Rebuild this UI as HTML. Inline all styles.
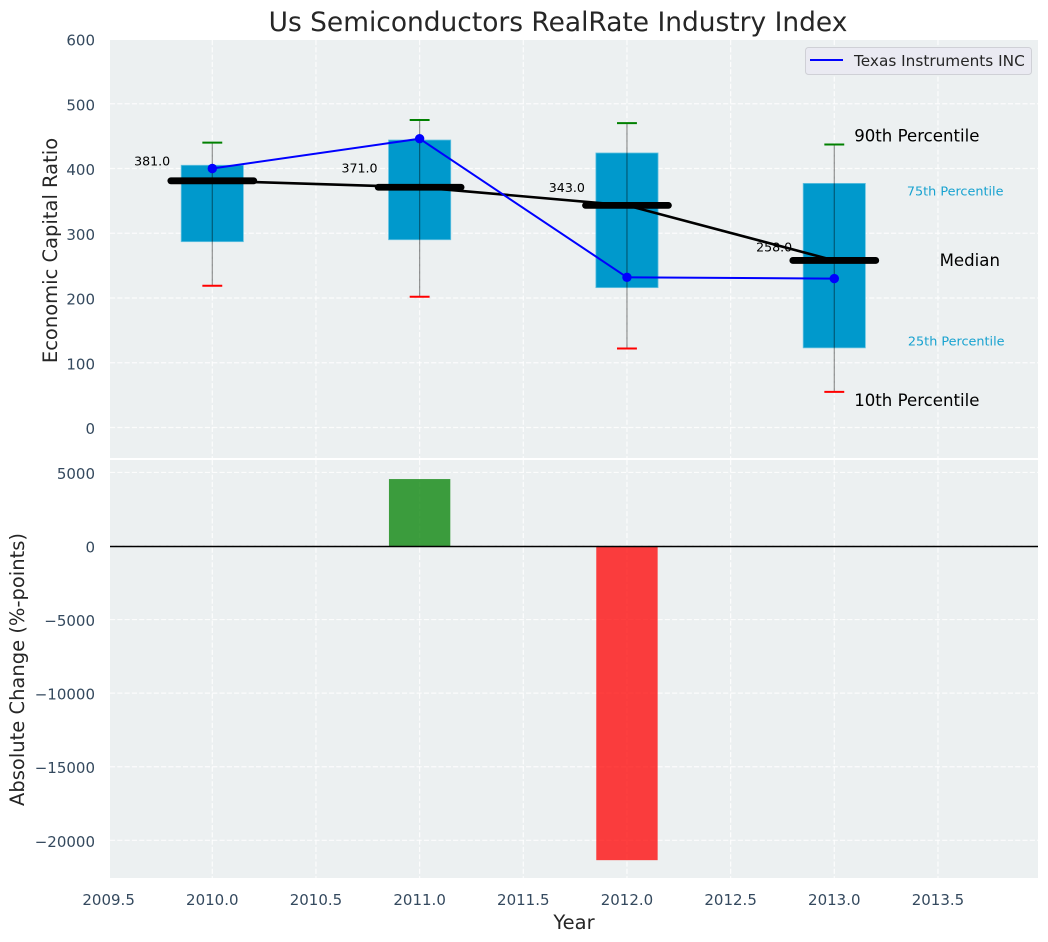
<!DOCTYPE html>
<html lang="en">
<head>
<meta charset="utf-8">
<title>Us Semiconductors RealRate Industry Index</title>
<style>
html,body{margin:0;padding:0;background:#fff;}
svg{display:block;font-family:"DejaVu Sans","Liberation Sans",sans-serif;}
</style>
</head>
<body>
<svg id="chart" xmlns="http://www.w3.org/2000/svg" width="1048" height="942" viewBox="0 0 1048 942">
  <rect x="110" y="40" width="928" height="418" fill="#ecf0f1"/>
  <rect x="110" y="460" width="928" height="418" fill="#ecf0f1"/>
  <g id="grid"></g>
  <g id="marks"></g>
  <g id="ticks"></g>
  <text x="558" y="31" font-size="26.45" text-anchor="middle" fill="#262626">Us Semiconductors RealRate Industry Index</text>
  <text transform="translate(57 250.5) rotate(-90)" font-size="19.5" text-anchor="middle" fill="#262626">Economic Capital Ratio</text>
  <text transform="translate(24 669.5) rotate(-90)" font-size="19.5" text-anchor="middle" fill="#262626">Absolute Change (%-points)</text>
  <text x="574" y="929" font-size="19.5" text-anchor="middle" fill="#262626">Year</text>
  <g>
    <rect x="805.5" y="47.5" width="226" height="27" rx="3" fill="#eaeaf2" stroke="#cfd0d6"/>
    <line x1="810" y1="60" x2="843" y2="60" stroke="#0000ff" stroke-width="2"/>
    <text x="854" y="66" font-size="15.3" fill="#262626">Texas Instruments INC</text>
  </g>
</svg>
<script>
const years = [2010, 2011, 2012, 2013];
const p10 = [219, 202, 122, 55];
const p25 = [287, 290, 216, 123];
const medians = [381, 371, 343, 258];
const p75 = [405, 444, 424, 377];
const p90 = [440, 475, 470, 437];
const company = [400, 446, 232, 230];
const changes = [0, 4550, -21350, 0];
const xTicks = [2009.5, 2010, 2010.5, 2011, 2011.5, 2012, 2012.5, 2013, 2013.5];
const yTicksTop = [0, 100, 200, 300, 400, 500, 600];
const yTicksBottom = [-20000, -15000, -10000, -5000, 0, 5000];

const NS = 'http://www.w3.org/2000/svg';
const grid = document.getElementById('grid');
const marks = document.getElementById('marks');
const ticks = document.getElementById('ticks');
const x = v => 212.3 + (v - 2010) * 207.33;
const yTop = v => 427.5 - v * 0.6475;
const yBot = v => 546 - v * 0.014715;
const left = 110, right = 1038;

function make(tag, parent, attrs, content) {
  const el = document.createElementNS(NS, tag);
  for (const k in attrs) el.setAttribute(k, attrs[k]);
  if (content !== undefined) el.textContent = content;
  parent.appendChild(el);
  return el;
}
const gridStyle = {stroke: '#ffffff', 'stroke-width': 1.2, 'stroke-dasharray': '5.1 2.2', opacity: 0.85};
const dedash = s => Object.assign({}, gridStyle, s);

xTicks.forEach(t => {
  const label = make('text', ticks, {x: x(t), y: 905, 'font-size': 15, 'text-anchor': 'middle', fill: '#34495e'}, t.toFixed(1));
  
  
  if (x(t) < left) return;
  const a = make('line', grid, dedash({x1: x(t), x2: x(t), y1: 40, y2: 458}));
  
  
  const b = make('line', grid, dedash({x1: x(t), x2: x(t), y1: 460, y2: 878}));
  
  
});
yTicksTop.forEach(t => {
  const g = make('line', grid, dedash({x1: left, x2: right, y1: yTop(t), y2: yTop(t)}));
  
  
  const l = make('text', ticks, {x: 95, y: yTop(t) + 6.5, 'font-size': 15, 'text-anchor': 'end', fill: '#34495e'}, String(t));
  
  
});
yTicksBottom.forEach(t => {
  const g = make('line', grid, dedash({x1: left, x2: right, y1: yBot(t), y2: yBot(t)}));
  
  
  const l = make('text', ticks, {x: 95, y: yBot(t) + 6.5, 'font-size': 15, 'text-anchor': 'end', fill: '#34495e'}, String(t).replace('-', '\u2212'));
  
  
});

years.forEach((yr, i) => {
  const box = make('rect', marks, {x: x(yr - 0.15), width: x(yr + 0.15) - x(yr - 0.15), y: yTop(p75[i]), height: yTop(p25[i]) - yTop(p75[i]), fill: '#0099cc', stroke: '#66c2e0', 'stroke-width': 0.8});
  
  
});
years.forEach((yr, i) => {
  const w = make('line', marks, {x1: x(yr), x2: x(yr), y1: yTop(p90[i]), y2: yTop(p10[i]), stroke: '#000', 'stroke-opacity': 0.42, 'stroke-width': 1.2});
  
  
  const hi = make('line', marks, {x1: x(yr - 0.048), x2: x(yr + 0.048), y1: yTop(p90[i]), y2: yTop(p90[i]), stroke: '#008000', 'stroke-width': 2});
  
  
  const lo = make('line', marks, {x1: x(yr - 0.048), x2: x(yr + 0.048), y1: yTop(p10[i]), y2: yTop(p10[i]), stroke: '#ff0000', 'stroke-width': 2});
  
  
  const lab = make('text', marks, {x: x(yr - 0.29), y: yTop(medians[i] * 1.08) + 4.5, 'font-size': 12.6, 'text-anchor': 'middle', fill: '#000'}, medians[i].toFixed(1));
  
  
});

const medianTrend = make('polyline', marks, {points: years.map((yr, i) => x(yr) + ',' + yTop(medians[i])).join(' '), fill: 'none', stroke: '#000', 'stroke-width': 2.6});


years.forEach((yr, i) => {
  const m = make('line', marks, {x1: x(yr - 0.2), x2: x(yr + 0.2), y1: yTop(medians[i]), y2: yTop(medians[i]), stroke: '#000', 'stroke-width': 6.8, 'stroke-linecap': 'round'});
  
  
});
const companyLine = make('polyline', marks, {points: years.map((yr, i) => x(yr) + ',' + yTop(company[i])).join(' '), fill: 'none', stroke: '#0000ff', 'stroke-width': 2});


years.forEach((yr, i) => {
  const d = make('circle', marks, {cx: x(yr), cy: yTop(company[i]), r: 4.7, fill: '#0000ff'});
  
  
});

years.forEach((yr, i) => {
  if (changes[i] === 0) return;
  const top = Math.min(yBot(changes[i]), yBot(0));
  const h = Math.abs(yBot(changes[i]) - yBot(0));
  const bar = make('rect', marks, {x: x(yr - 0.148), width: x(yr + 0.148) - x(yr - 0.148), y: top, height: h, fill: changes[i] > 0 ? '#008000' : '#ff0000', 'fill-opacity': 0.75});
  
  
});
const zero = make('line', marks, {x1: left, x2: right, y1: yBot(0) + 0.5, y2: yBot(0) + 0.5, stroke: '#000', 'stroke-width': 1.4});



const last = years.length - 1;
const bigNote = {'font-size': 16.6, fill: '#000'};
const smallNote = {'font-size': 12.8, fill: '#0099cc', 'fill-opacity': 0.9};
const n90 = make('text', marks, Object.assign({x: x(years[last] + 0.096), y: yTop(p90[last]) - 3}, bigNote), '90th Percentile');


const n75 = make('text', marks, Object.assign({x: x(years[last] + 0.35), y: yTop(p75[last]) + 12}, smallNote), '75th Percentile');


const nMed = make('text', marks, Object.assign({x: x(years[last] + 0.508), y: yTop(medians[last]) + 5.5}, bigNote), 'Median');


const n25 = make('text', marks, Object.assign({x: x(years[last] + 0.355), y: yTop(p25[last]) - 2.5}, smallNote), '25th Percentile');


const n10 = make('text', marks, Object.assign({x: x(years[last] + 0.096), y: yTop(p10[last]) + 14}, bigNote), '10th Percentile');


</script>
</body>
</html>
